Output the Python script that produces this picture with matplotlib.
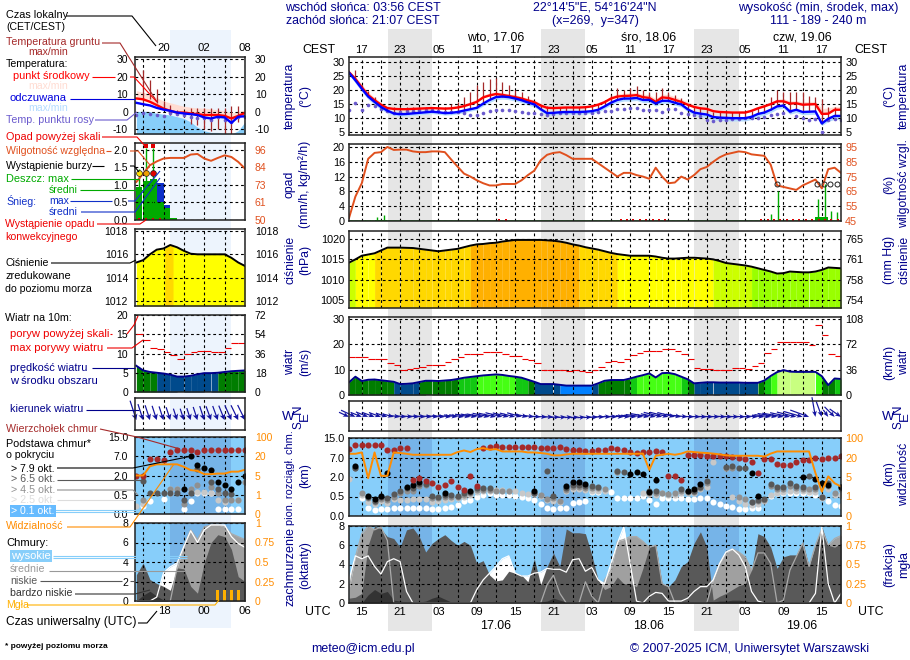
import numpy as np
import matplotlib
matplotlib.use("Agg")
import matplotlib.pyplot as plt

plt.rcParams['font.family'] = ['Liberation Sans', 'DejaVu Sans']
plt.rcParams['font.size'] = 8.9

W, H = 910, 660
NAVY = '#00008b'
HUM = '#e0501e'
ORANGE = '#ff8c00'
BROWN = '#a52a2a'
SKY = '#87cefa'
SKY_NIGHT = '#76b4e8'

# ---- main meteogram, hourly values from 13 UTC on the 16th
temp_mid = [26.4,24,21,18.2,16.4,14.8,13.6,13.3,13.2,13.2,13.3,13.4,13.5,13.6,13.5,13.4,13.5,13.8,14.3,15,
            15.8,17.4,18.1,18.6,18.3,17.9,17.5,17,16.3,15.7,14.5,13.7,13.6,13.7,13.8,13.8,13.8,13.9,14.2,14.8,
            15.7,17,17.7,17.9,18,18.2,17.5,17.2,15.8,17.4,17.2,16.5,15.8,14.8,14,13.5,13.3,12.5,12.2,12.1,
            12,12,12,12.6,13.5,14.2,15,16,16,15.2,15.3,14.8,14.9,15,11.5,11.6,13,13]
temp_max = [26.8,24.8,22,19.3,17.4,15.6,14.2,13.9,13.8,13.8,13.9,14,14.1,14.2,14.1,14,14.1,14.4,15,15.8,
            16.8,18.2,19,19.4,19.1,18.7,18.3,17.8,17.1,16.5,15.2,14.3,14.2,14.3,14.4,14.4,14.4,14.5,14.8,15.6,
            16.5,17.8,18.7,18.9,19,19.2,18.6,18.4,17,18.6,18.4,17.7,16.8,15.8,14.9,14.3,14,13.2,12.9,12.8,
            12.7,12.7,12.7,13.3,14.2,15,15.8,16.8,17,16.2,16.2,15.9,16,16,13.5,13.6,14.2,14.2]
temp_feel = [26.2,23.5,20.5,17.7,15.8,14,12.7,11.7,11.4,11.5,11.7,11.9,12.1,12.3,12.1,11.8,11.9,12.2,12.7,13.2,
             13.7,15.2,16.5,17.5,17.7,17.5,17,16.4,15.6,14.9,13.2,11.8,11.9,12.1,12.2,12.2,12.2,12.3,12.5,13,
             14.2,15.5,16.5,17,17,17.2,16.5,16.5,15.2,16.2,16.2,15.5,14.9,13.2,12,11.6,11.3,10.4,10.2,10.1,
             10,10,10,10.5,11.5,12,13,14.2,14.5,12.4,13,12.2,12.3,12.4,8.1,9.8,10.8,10.8]
feel_min = [25.6,22.5,19.5,16.7,14.8,13,11.9,11,10.7,10.8,11,11.2,11.4,11.6,11.4,11.1,11.2,11.5,12,12.5,
            13,14.4,15.6,16.6,16.8,16.6,16.1,15.5,14.7,14,12.4,11,11.1,11.3,11.4,11.4,11.4,11.5,11.7,12.2,
            13.4,14.7,15.6,16.1,16.1,16.3,15.6,15.6,14.3,15.3,15.3,14.6,14,12.3,11.1,10.6,10.2,9.4,9.2,9,
            9,9,9,9.5,10.5,11,12,13.2,13.5,11.4,12,11.2,11.3,11.4,7.4,8.8,9.6,9.6]
ground_max = [26.4,27.1,21.8,19.8,17.6,14.6,14,14,14,14,14,14,14,14,14,14,15.2,15.8,17.6,19.4,
              21.8,23,23.8,24.2,23,21.8,20,19.2,17.9,15.8,14.6,14.2,14,14,14,14,14,14.2,14.6,15,
              16.5,18.2,20.6,20,20.6,21.4,20,19.4,19.4,20.6,19.4,18.2,17.3,15.2,14,14,13.6,12.3,12.3,12.3,
              12.3,12.3,12.3,12.5,13.5,14.6,17.6,20,19.4,19.4,19.4,19.4,17.9,17.6,17,14,14,14]
dew_point = [13,15.3,13,14.7,14.2,13.3,12.6,12,12.3,12.4,12.7,12.8,13,12.8,12.5,12.3,12.1,12.1,11.8,11.2,
             11,12,12.5,12.9,13,12.9,12.5,12.2,12,11.8,11.4,11.3,11.6,11.8,12,12,12,12,12,12.2,
             12.5,12.6,13.1,13.3,13.5,13.5,13,13,13,12.3,13.2,13.1,11.9,11.5,11,10.8,9.2,9,9.2,9.4,
             9.6,9.8,10,10,10,10.5,11,11.5,12,12.6,10.7,10,9.5,9.6,4.9,9.5,9.7,9.3]
humidity = [47,61.5,70.5,87,91,91.5,95,93,93.2,93.2,92,91.5,91.5,92,92,91.5,86.5,81.7,77,75,
            72.5,70.5,69,69,70,70,70,72.5,76,79,86,89.7,91,91.5,89.5,87,87,87,87,84,
            81,78,75,77.5,77.5,76,75,73.5,81,75,70.5,71,75,73,76,80,81.5,85,88,90,
            91,92,91.5,90,89.5,89,83,69,68,67,66,69,71,73,67,80,81,77.5]
rain_hours = [2.5,3.3,4.4,5.4,66,67.1,73.4,74.5,75.5,76.4]
rain_max = [.4,.4,1,1.6,1.9,8,6,10,2.7,2.5]
rain_mean_hours = [4.5,5.5,73.5,74.5]
rain_mean = [.2,.3,1.2,1.2]
convective_hours = [23.5,24.5,42.5,43.5,44.5,45.5,46.5,47.5,48.5,49.5,64.5,65.5,66.5,67.5,68.5,69.5,70.5,71.5,72.5,73.5,74.5,75.5,76.5]
storm_hours = [67,73.3,74.3,75.3,76.4]
pressure = [1014.2,1015,1015.9,1016.2,1016.5,1017.2,1017.9,1017.9,1017.9,1017.85,1017.8,1017.6,1017.4,1017.2,1017,1017.2,1017.4,1017.6,1018,1018.4,
            1018.7,1018.8,1019,1019.1,1019.4,1019.6,1019.8,1019.8,1019.8,1019.8,1019.8,1019.7,1019.6,1019.4,1019.1,1018.7,1018.4,1018,1017.7,1017.4,
            1017,1016.6,1016.3,1016.1,1015.9,1015.9,1015.9,1015.9,1015.7,1015.4,1015.2,1015.2,1015.3,1015.4,1015.4,1015.3,1015.2,1015,1014.6,1014.1,
            1013.9,1013.7,1013.5,1013.2,1012.8,1012.4,1012,1011.5,1011.6,1012,1011.9,1011.8,1011.8,1012,1012.4,1013,1012.9,1012.8]
wind = [5,7.2,5.5,6,6.1,5.8,5.5,5.2,4.3,4.4,4.6,5.1,5.6,5.6,5.5,5.7,5.9,6.3,6.8,7.1,
        7.4,7.7,7.9,8.1,7.9,7.5,7.2,6.8,6,5.2,4.3,4.3,4.3,4,3.7,3.7,3.7,3.7,3.7,4.6,
        5.6,5.9,5.9,5.9,6.5,7.2,7.8,8.5,6.9,8.6,8.7,8.2,7.2,6.2,4.6,4.8,5,5,4.9,4.9,
        4.9,4.9,4.8,4.8,4.8,5.7,7.5,9,9.8,9.2,9.1,9.1,9.1,9.1,7.4,3.9,6.5,6.3]
gust = [14.8,15,14.8,14,14,14,12.7,12,9.7,10.2,10.7,11.2,12,12,12,12.8,14.2,15,16,16,
        16.3,16.9,17.1,17.1,16,15.5,15.2,14.1,13.6,12.5,9.8,9.8,10,9.9,9.3,9.7,9.3,8.9,9.7,11,
        12.9,13.2,12.9,14,15.6,16.5,17.5,17.5,17.5,18.3,18.3,17.5,16,14,10.8,10.3,10.3,9.7,10,10,
        10.8,10.8,10.3,11.6,12.5,16.7,18.3,21,21,20.7,20.7,20.7,19.6,27.5,23.5,16.3,15.2]
wind_angle = [25,25,22,22,20,20,18,15,8,6,5,5,5,5,6,6,6,8,8,10,
              10,10,12,12,14,14,14,16,12,8,4,2,0,-3,-4,-5,-6,-6,-5,-3,
              0,2,3,4,5,6,8,10,12,14,14,14,10,6,3,3,3,3,3,4,
              3,3,3,3,5,6,8,10,10,12,14,16,20,80,70,55,45,35]
# cloud base and top in scale steps (0, 0.5, 2, 7, 15 km are steps 0..4)
top_base = [3.43,3.64,3.64,3.64,3.64,3.64,3.40,3.40,3.48,3.48,1.85,1.97,1.80,1.68,1.50,1.60,1.77,1.50,1.34,2.06,
            1.55,3.48,3.54,3.57,3.54,3.54,3.54,3.54,3.54,3.54,3.48,3.48,3.48,3.54,3.43,3.40,3.40,3.35,3.31,3.40,
            3.40,3.48,3.43,3.40,3.30,3.23,3.30,3.30,3.35,3.30,2.03,2.06,1.85,3.14,3.14,3.12,3.10,3.09,3.06,3.06,
            3.02,2.99,2.94,2.76,2.20,2.92,2.92,2.66,2.59,2.59,2.76,2.88,2.88,2.99,2.92,2.97,2.97,3.06]
black_hours = [1,3,4,5,6,9,10,11,15,19,29,34,35,36,37,44,45,46,47,48,53,54,55,63,64,71,73,74,75,77]
black_base = [2.54,1.03,.86,1.05,2.23,1.51,1.6,1.73,1.2,1.3,1.29,1.56,1.72,1.72,1.65,2.16,2.28,2.15,1.25,1.85,1.29,1.37,1.63,2.2,1.05,1.99,1.92,1.68,1.6,1.51]
dark_hours = [1,3,4,5,6,7,8,9,10,11,12,13,14,15,16,17,18,19,20,21,22,29,31,32,34,35,36,37,38,39,42,43,47,48,52,53,54,55,56,59,60,61,62,63,64,65,66,67,68,69,70,71,72,73,74,75,77]
dark_base = [2.47,.96,.77,.98,.91,1.13,1.3,1.42,1.42,1.65,1.65,1.05,1,1.08,1.08,1.05,1.17,1.25,1.42,1.42,1.42,1.2,2.33,1.03,1.42,1.6,1.6,1.55,1.55,1.5,2.31,2.28,1.28,1.28,1.38,1.29,1.29,1.51,1.77,2.51,2.54,2.45,2.45,.74,.8,.86,1.65,1.51,1.51,1.68,1.55,1.47,2.06,1.51,1,1.68,1.51]
mid_hours = [1,2,3,4,5,6,7,8,9,10,11,12,13,14,15,16,17,18,19,20,21,22,23,24,25,29,30,31,32,33,34,35,36,37,38,39,40,42,47,48,49,50,51,52,53,54,55,56,59,60,61,62,63,64,65,66,67,68,69,70,71,72,73,74,75,76,77]
mid_base = [2.45,1.16,.9,.7,.85,.8,1,1.2,1.3,1.3,1.55,1.6,.9,.9,.95,.95,1,1.1,1.2,1.35,1.35,1.35,1.3,1.3,1.3,1.2,1.1,.85,.9,.75,1.35,1.5,1.5,1.45,1.42,1.42,1.4,2.27,1.2,1.2,1.2,1.15,1.2,1.3,1.25,1.25,1.45,1.7,2.45,2.45,.95,.85,.7,.75,.8,1.55,1.4,1.4,1.55,1.45,1.4,1.4,1.4,.95,1.55,1.2,1.4]
light_hours = [0,2,3,4,5,6,7,8,9,10,11,12,13,14,15,16,17,18,19,20,21,22,23,24,25,26,27,28,29,30,31,32,33,34,35,36,37,38,39,40,42,46,47,48,49,50,51,52,53,54,55,56,57,59,60,61,62,63,64,65,66,67,68,69,70,71,72,73,74,75,76,77]
light_base = [1.88,1.1,.7,.6,.75,.65,.85,.82,.82,.85,.85,.85,.7,.75,.8,.85,.9,1,1.1,1.25,1.3,1.3,1.35,1.35,1.3,1.3,1.2,1.15,1.15,1.05,.8,.75,.7,1.3,1.4,1.4,1.35,1.3,1.3,1.3,2.25,1.2,1.15,1.1,1.2,1.1,1.1,1.2,1.2,1.2,1.4,1.5,2.75,2.45,.95,.75,.6,.55,.6,.75,1.1,1.2,1.25,1.3,1.3,1.3,1.25,1.25,.9,1.4,1.1,1.1]
white_hours = list(range(2, 78))
white_base = [.91,.39,.31,.34,.34,.43,.39,.39,.43,.43,.39,.34,.34,.39,.48,.57,.79,.82,1,1.08,1.17,1.08,1.08,1.08,1.05,1,.91,.82,.62,.43,.34,.39,.39,.65,.7,.75,1.25,1.25,
              1.34,1.25,.91,.91,.91,.94,1.03,.82,.62,.91,.91,.91,.91,.86,.86,.91,.91,.7,.62,.53,.45,.36,.34,.39,.43,.82,1.03,1.17,1.17,1.17,1.17,1.17,1.17,1.08,1,.77,.57,.51]
visibility = [3.19,3.19,3.26,1.94,3.26,2.06,2.06,3.26,3.23,3.19,3.14,3.14,3.14,3.14,3.14,3.14,3.14,3.28,3.36,3.28,
              3.43,3.48,3.40,3.43,3.31,3.31,3.31,3.31,3.26,3.26,3.23,3.19,3.11,3.11,3.16,3.19,3.19,3.19,3.19,3.19,
              3.19,3.19,3.19,3.19,3.19,3.19,3.2,2.37,3.09,3.14,3.19,3.14,3.2,3.31,3.28,3.25,3.23,3.2,3.16,3.11,
              3.09,3.09,3.09,3.09,3.09,3.05,3.2,3.31,3.31,3.31,3.31,3.31,3.31,2.2,1.25,2.03,1.68,1.51]
cloud_high = [2.4,4.9,4.6,4.9,3.8,3,4.3,4.6,4.3,1.2,0,0,0,0,0,0,0,0,0,0,
              1.4,2.4,3.1,3.8,4.6,4.9,3.1,2.8,2.8,3.1,3.2,3.6,3.5,3.5,3.2,4.5,4.6,3.3,3.7,2.4,
              2,4.1,6.2,7.9,4.1,.2,0,.7,1.1,1,.2,.2,.2,.5,1.2,1.7,1.7,2.4,4.1,5.3,
              5.6,5,3.8,1.2,.2,0,0,0,0,0,0,0,0,1,7.9,2,0,1]
cloud_mid = [1.4,4.8,7.2,8,7.6,7.9,6.5,0,0,0,0,0,0,0,0,0,0,0,0,0,
             0,0,0,0,0,0,0,0,0,0,0,1.9,2.9,1,0,0,0,2.2,.7,0,
             2.4,3.4,6.4,6.6,6.9,6.9,6.4,5.8,6,2,1.7,0,0,0,0,0,0,2.4,4.1,5.2,
             5.6,5.3,4.8,3.4,5.2,5.2,4.1,0,.3,3.4,4.8,6.2,3.8,6,7.7,6,6.7,7]
cloud_low = [.5,.6,1,6,8,7.7,6.9,6.7,5.8,7.6,7.8,6.9,5.3,6.2,6.7,7.1,6.5,6,6.4,6,
             4.1,4.4,2.9,2.3,2.4,3.3,3.1,2.9,2.2,4.6,1.9,3.8,5.2,3.8,7.7,7.3,7.3,7.2,5,2.4,
             1.4,1.7,2.7,2,2,1.7,3.6,5.8,6,2,1.7,2.4,3.8,4.3,6.2,7.4,5.8,.3,.7,1,
             1.4,1.8,2,3.4,7.2,6.9,5.8,3.6,4.8,5,5,6.4,3.8,6,7.9,6,5.8,6.2]
cloud_vlow = [0,0,0,.85,1.4,1,1.2,.3,.2,.1,.1,.1,.2,.5,.7,.4,.1,.1,.1,.1,
              0,0,0,0,0,0,0,0,0,0,.1,.2,.5,.3,.1,.1,0,0,0,0,
              0,0,0,0,0,0,0,0,0,0,0,0,.1,.1,.1,.1,.1,.1,.2,.2,
              .3,.3,.2,.1,.1,.1,.1,.1,.1,.1,.1,.1,.1,.1,.1,.1,.1,.1]
night_start = [6.12, 30.12, 54.0]
night_end = [12.93, 36.93, 61.0]

# ---- legend meteogram on the left, hours after 17 CEST
leg_hours = list(range(-1, 16))
leg_temp = [7.5,7,5.6,3.7,1.7,.4,-.6,-.6,-1.1,-1.5,-2,-2,-2,-2.5,-4,-2.5,-.8]
leg_temp_max = [12,11,10,8,6,5,4,3,2.5,2,2,1.5,1,.5,-1,0,1]
leg_feel = [5,4.2,3.5,2.1,1.1,.4,-.6,-1.1,-1.5,-2,-3.4,-4,-3,-3.4,-6.5,-3,-2.7]
leg_feel_min = [0,.2,0,-1,-1.5,-2,-3,-4,-6,-9,-11,-12,-12,-12.5,-13,-11,-6]
leg_ground_hi = [np.nan,24,18,13,6,4,1,-.2,2,2,2,2,2,2,3,3,np.nan]
leg_ground_lo = [np.nan,4.2,7,5,1,-2,-2,-3.4,-7,-8,-10,-11,-10,-13,-13,-6,np.nan]
leg_dew = [-2,-1,-1.5,-2,-2.6,-.8,-1.5,-2,-3,-3.6,-4,-4.6,-3.4,-5,-6,-3.4,-3]
leg_humidity = [75,80.5,86,88.5,90.4,90.8,90.8,90.8,93,93.4,90.4,88.9,90.8,92.5,91.4,88.2,83.8]
leg_rain_hours = [-.6,.5,1.5,2.5,3.5,4.5]
leg_rain = [.95,1.1,1.17,.52,.33,.05]
leg_snow = [0,0,0,.55,.1,0]
leg_rain_max_hours = [-.6,.4,1.5]
leg_rain_max = [1.47,2.05,2.05]
storm_colors = ['#ffe000','#f0a000','#e00000']
leg_pressure = [1015.3,1015.5,1016,1016.4,1016.5,1016.8,1016.6,1016.3,1016.05,1016,1016,1016,1016,1016,1015.7,1015.3,1015]
leg_wind = [6.8,5.6,5.2,5,4.8,4.5,4,4,4.2,4.6,4.9,4.9,5,5.2,5.4,5.5,5.6]
leg_gust = [15,13.4,11.5,11.2,10.4,9.5,8.7,9.8,10.4,10.6,10.6,10.4,10.4,11.5,12.7,12.7]
leg_top = [1.98,1.98,2.88,2.88,2.8,3.22,3.34,3.34,3.34,3.22,3.34,3.34,3.34,3.34,3.34,3.34,3.34]
leg_black_hours = [6,7,8,9,10,11,12,13,14,15]
leg_black = [1.28,3,2.53,2.4,2.28,1.67,1.5,1.28,1.67,1.98]
leg_dark_hours = [0,1,2,3,4,5,6,7,8,10,11,12,13]
leg_dark = [1.7,1.1,1.1,1.1,1.1,1.07,.72,1.07,2.36,1.67,1.28,1.07,1.03]
leg_mid_hours = [0,4,5,6,7,8,10,11,12,13,14,15]
leg_mid = [.72,1.28,1.28,.5,1.28,1.5,1.41,1.07,.72,.72,.72,1.67]
leg_light_hours = [-1,0,4,5,7,8,9,10,11,12,14]
leg_light = [.41,.5,1.28,1.28,1.16,1.16,1.16,1.07,.72,.64,.72]
leg_white_hours = [0,1,3,4,6,7,8,9,10,11,12,13,14]
leg_white = [.41,.69,.78,1.1,.24,.69,1.1,1.1,1.07,.24,.24,.24,.24]
leg_visibility = [2,2,2.48,2.58,2.58,2.58,2.58,2.45,2.28,2.24,2.07,2.07,2.1,2.1,2.2,2.2,2.3]
leg_cloud_high = [0,0,0,.4,2.9,3.5,3.9,5.6,7.2,6,7.3,7.8,7.8,7.8,6.6,5.9,5.5]
leg_cloud_mid = [0,0,0,0,0,0,3.4,5.6,7.3,6.3,7.6,7.8,7.8,7.6,6.9,6.6,6.3]
leg_cloud_low = [2.7,3.9,2.2,1.8,1.5,1.1,3.4,3.3,1.5,.8,3.9,6,6.8,6.6,5.3,2.5,2]
leg_cloud_vlow = [0,.6,1,.5,.1,0,0,0,0,0,0,0,0,0,0,0,0]
fog_hours = [11,12,13,14]
fog = [.14,.14,.14,.14]

fig = plt.figure(figsize=(W / 100, H / 100), dpi=100)


def panel(l, t, r, b, zorder=1):
    ax = fig.add_axes([l / W, 1 - b / H, (r - l) / W, (b - t) / H], zorder=zorder)
    ax.patch.set_alpha(0)
    return ax


def dressed(box, xlim, xticks, ylim, yticks, ylab, rlab, rcolor='black', lpad=3, rpad=3, grid_y=True, size=7.8):
    ax = panel(*box)
    ax.set_xlim(*xlim)
    ax.set_ylim(*ylim)
    ax.set_xticks(xticks)
    ax.set_xticklabels([])
    ax.set_yticks(yticks)
    ax.set_yticklabels(ylab)
    ax.tick_params(length=0, pad=lpad, labelsize=size)
    ax.set_axisbelow(False)
    ax.grid(True, color='black', lw=.8, ls=(0, (2.5, 2.5)))
    if not grid_y:
        ax.grid(False, axis='y')
    for s in ax.spines.values():
        s.set_linewidth(1.1)
        s.set_color('#222222')
        s.set_zorder(6)
    if rlab is not None:
        rax = ax.twinx()
        rax.set_ylim(*ylim)
        rax.set_yticks(yticks)
        rax.set_yticklabels(rlab, color=rcolor)
        rax.tick_params(length=0, pad=rpad, labelsize=size)
        rax.patch.set_alpha(0)
        for s in rax.spines.values():
            s.set_visible(False)
    return ax


def band_fill(ax, x, y, bottom, colour_of):
    for i in range(len(x) - 1):
        c = colour_of((y[i] + y[i + 1]) / 2)
        ax.fill_between(x[i:i + 2], bottom, y[i:i + 2], color=c, lw=0, zorder=1)


def pressure_colour(p):
    if p < 1013.3:
        return '#99ff00'
    if p < 1015:
        return '#ccff00'
    if p < 1016.4:
        return '#ffff00'
    if p < 1018.5:
        return '#ffd800'
    return '#ffb000'


def wind_colour(v):
    if v < 4:
        return '#0080ff'
    if v < 5.1:
        return '#004a8c'
    if v < 6.4:
        return '#007d00'
    if v < 7.3:
        return '#12c812'
    if v < 9:
        return '#46ff14'
    return '#c8ff80'


def draw_temp(ax, x, mid, up, feel, low, dew, lw=1.7):
    ax.fill_between(x, mid, up, color='#ffdcd2', lw=0, zorder=1)
    ax.fill_between(x, low, feel, color='#b4dcff', lw=0, zorder=1)
    ax.plot(x, dew, ls='none', marker='o', ms=2.6, mew=0, color='#6a5acd', zorder=3)
    ax.plot(x, mid, color='#ff0000', lw=lw, zorder=4)
    ax.plot(x, feel, color='#0000ff', lw=lw, zorder=4)


def draw_clouds(ax, x, high, mid, low, vlow):
    ax.fill_between(x, 0, high, color='white', lw=0, zorder=1)
    ax.fill_between(x, 0, mid, color='#a0a0a0', lw=0, zorder=1.1)
    ax.fill_between(x, 0, low, color='#595959', lw=0, zorder=1.2)
    ax.fill_between(x, 0, vlow, color='#333333', lw=0, zorder=1.3)
    ax.plot(x, mid, color='#aaaaaa', lw=.9, zorder=3)
    ax.plot(x, high, color='white', lw=.9, zorder=3)


base_ticks = [0, 1, 2, 3, 4]
base_labels = ['0.0', '0.5', '2.0', '7.0', '15.0']
vis_labels = ['0', '1', '5', '20', '100']

# background bands
hours = np.arange(78)
bx = panel(349, 29, 841, 631, zorder=0)
bx.set_xlim(0, 77)
bx.axis('off')
for a, b in zip(night_start, night_end):
    bx.axvspan(a, b, color='#e6e6e6', lw=0)
lbx = panel(135, 30, 245, 628, zorder=0)
lbx.set_xlim(-1.2, 15)
lbx.axis('off')
lbx.axvspan(3.95, 13, color='#edf4fd', lw=0)

# ---- main panels
mx = (0, 77)
mt = list(range(2, 78, 3))
ax = dressed((349, 57, 841, 135), mx, mt, (4, 31.8), [5, 10, 15, 20, 25, 30], [5, 10, 15, 20, 25, 30], [5, 10, 15, 20, 25, 30])
ax.vlines(hours[1:], np.array(temp_feel[1:]), np.array(ground_max[1:]), color=BROWN, lw=.9, zorder=2.8)
draw_temp(ax, hours, temp_mid, temp_max, temp_feel, feel_min, dew_point)

ax = dressed((349, 144, 841, 221), mx, mt, (0, 20.8), [0, 4, 8, 12, 16, 20], [0, 4, 8, 12, 16, 20],
             [45, 55, 65, 75, 85, 95], HUM)
ax.bar(rain_mean_hours, rain_mean, width=1, color='#00aa00', zorder=3)
ax.vlines(rain_hours, 0, rain_max, color='#00aa00', lw=1, zorder=3)
ax.plot(hours, (np.array(humidity) - 45) / 2.5, color=HUM, lw=1.4, zorder=4)
ax.plot(storm_hours, [9.9] * len(storm_hours), ls='none', marker='o', mfc='none', mec='#222222', ms=3.6, mew=.7, zorder=5)
ax.plot(convective_hours, [.2] * len(convective_hours), ls='none', marker='s', ms=1.8, mew=0, color='#e00000', zorder=5, clip_on=False)
ax.axhline(.2, color='#008000', lw=.5, zorder=2)

ax = dressed((349, 231, 841, 308), mx, mt, (1003, 1022), [1005, 1010, 1015, 1020], [1005, 1010, 1015, 1020],
             [754, 758, 761, 765])
band_fill(ax, hours, pressure, 1003, pressure_colour)
ax.plot(hours, pressure, color='black', lw=1.4, zorder=4)

ax = dressed((349, 317, 841, 395), mx, mt, (0, 30.7), [0, 10, 20, 30], [0, 10, 20, 30], [0, 36, 72, 108])
band_fill(ax, hours, wind, 0, wind_colour)
ax.plot(hours, wind, color='#00008b', lw=1.4, zorder=4)
ax.hlines(gust, hours[:-1], hours[1:], color='#ee0000', lw=.8, zorder=4)

ax = dressed((349, 401, 841, 431), mx, mt, (0, 1), [], [], None, grid_y=False)
ang = np.radians(wind_angle)
ln = np.array(wind) * 2.2
ax.quiver(hours, np.full(78, .47), ln * np.cos(ang), -ln * np.sin(ang), angles='uv', scale_units='dots', scale=1,
          units='dots', width=1.2, headwidth=4, headlength=5, headaxislength=4, pivot='tip', color='#1414a0', zorder=5, clip_on=False)

ax = dressed((349, 438, 841, 516), mx, mt, (0, 4), base_ticks, base_labels, vis_labels, ORANGE)
ax.set_facecolor(SKY)
ax.patch.set_alpha(1)
for a, b in zip(night_start, night_end):
    ax.axvspan(a, b, color=SKY_NIGHT, lw=0, zorder=.5)
for hh, vv, c in [(white_hours, white_base, 'white'), (light_hours, light_base, '#c8c8c8'), (mid_hours, mid_base, '#909090'),
                  (dark_hours, dark_base, '#585858'), (black_hours, black_base, 'black'), (hours, top_base, BROWN)]:
    ax.plot(hh, vv, ls='none', marker='o', ms=4.4, mew=0, color=c, zorder=3)
ax.plot(hours, visibility, color=ORANGE, lw=1.4, zorder=4)

ax = dressed((349, 526, 841, 603), mx, mt, (0, 8), [0, 2, 4, 6, 8], [0, 2, 4, 6, 8], ['0', '0.25', '0.5', '0.75', '1'], ORANGE)
ax.set_facecolor(SKY)
ax.patch.set_alpha(1)
for a, b in zip(night_start, night_end):
    ax.axvspan(a, b, color=SKY_NIGHT, lw=0, zorder=.5)
draw_clouds(ax, hours, cloud_high, cloud_mid, cloud_low, cloud_vlow)

# ---- legend panels
lx = (-1.2, 15)
lt = [0, 3, 6, 9, 12, 15]
ax = dressed((135, 57, 245, 134), lx, lt, (-12.9, 31.3), [-10, 0, 10, 20, 30], [-10, 0, 10, 20, 30], [-10, 0, 10, 20, 30], lpad=5, rpad=7, size=7.5)
ax.fill_between(leg_hours, -12.9, leg_feel_min, color=SKY, lw=0, zorder=1)
ax.vlines(leg_hours, leg_ground_lo, leg_ground_hi, color=BROWN, lw=.9, zorder=2.8)
draw_temp(ax, leg_hours, leg_temp, leg_temp_max, leg_feel, leg_feel, leg_dew)

ax = dressed((135, 143, 245, 220), lx, lt, (0, 2.2), [0, .5, 1, 1.5, 2], ['0.0', '0.5', '1.0', '1.5', '2.0'],
             [50, 61, 73, 84, 96], HUM, lpad=5, rpad=7, size=7.5)
ax.bar(leg_rain_hours, leg_rain, width=1, color='#00aa00', zorder=1.5)
ax.bar(leg_rain_hours, leg_snow, width=1, bottom=leg_rain, color='#1030c8', zorder=1.5)
ax.vlines(leg_rain_max_hours, 0, leg_rain_max, color='#00aa00', lw=1, zorder=3)
ax.plot(leg_hours, (np.array(leg_humidity) - 50) / 23, color=HUM, lw=1.4, zorder=4)
for h_, c in zip(leg_rain_max_hours, storm_colors):
    ax.plot(h_, 1.33, marker='o', ms=4.2, mfc=c, mec='#222222', mew=.5, zorder=5)
ax.plot(leg_rain_max_hours[1:], [2.1, 2.1], ls='none', marker='s', ms=2.4, mew=0, color='#e00000', zorder=5)
ax.plot([-.6, .4, 1.5, 2.5], [.02] * 4, ls='none', marker='s', ms=1.6, mew=0, color='#e00000', zorder=5, clip_on=False)

ax = dressed((135, 229, 245, 306), lx, lt, (1011.57, 1018.17), [1012, 1014, 1016, 1018], [1012, 1014, 1016, 1018],
             [1012, 1014, 1016, 1018], lpad=5, rpad=7, size=7.5)
ax.fill_between(leg_hours, 1011.57, leg_pressure, color='#ffff00', lw=0, zorder=1)
ax.fill_between([3.2, 4, 4.4], 1011.57, [1016.5, 1016.8, 1016.7], color='#ffd800', lw=0, zorder=1.1)
ax.plot(leg_hours, leg_pressure, color='black', lw=1.4, zorder=4)

ax = dressed((135, 315, 245, 392), lx, lt, (0, 20), [0, 5, 10, 15, 20], [0, 5, 10, 15, 20], [0, 18, 36, 54, 72], lpad=5, rpad=7, size=7.5)
band_fill(ax, leg_hours, leg_wind, 0, wind_colour)
ax.plot(leg_hours, leg_wind, color='#00008b', lw=1.4, zorder=4)
ax.hlines(leg_gust, leg_hours[:-1], leg_hours[1:], color='#ee0000', lw=.8, zorder=4)

ax = dressed((135, 398, 245, 430), lx, lt, (0, 1), [], [], None, grid_y=False)
ang = np.radians(np.array([72, 72, 72, 72, 72, 72, 72, 72, 72, 72, 72, 70, 70, 68, 66, 64, 64]))
ln = np.array(leg_wind) * 3
ax.quiver(leg_hours, np.full(17, .31), ln * np.cos(ang), -ln * np.sin(ang), angles='uv', scale_units='dots', scale=1,
          units='dots', width=1.2, headwidth=5, headlength=5, headaxislength=4, pivot='tip', color='#1414a0', zorder=5, clip_on=False)

ax = dressed((135, 437, 245, 514), lx, lt, (0, 4), base_ticks, base_labels, vis_labels, ORANGE, lpad=5, rpad=7, size=7.5)
ax.set_facecolor(SKY)
ax.patch.set_alpha(1)
ax.axvspan(3.95, 13, color=SKY_NIGHT, lw=0, zorder=.5)
for hh, vv, c in [(leg_white_hours, leg_white, 'white'), (leg_light_hours, leg_light, '#c8c8c8'), (leg_mid_hours, leg_mid, '#909090'),
                  (leg_dark_hours, leg_dark, '#585858'), (leg_black_hours, leg_black, 'black'), (leg_hours, leg_top, BROWN)]:
    ax.plot(hh, vv, ls='none', marker='o', ms=4.4, mew=0, color=c, zorder=3)
ax.plot(leg_hours, leg_visibility, color=ORANGE, lw=1.4, zorder=4)

ax = dressed((135, 523, 245, 601), lx, lt, (0, 8), [0, 2, 4, 6, 8], [0, 2, 4, 6, 8], ['0', '0.25', '0.5', '0.75', '1'], ORANGE, lpad=5, rpad=7, size=7.5)
ax.set_facecolor(SKY)
ax.patch.set_alpha(1)
ax.axvspan(3.95, 13, color=SKY_NIGHT, lw=0, zorder=.5)
draw_clouds(ax, leg_hours, leg_cloud_high, leg_cloud_mid, leg_cloud_low, leg_cloud_vlow)
ax.bar(fog_hours, np.array(fog) * 8, width=.45, color='#ffb000', zorder=5)

# ---- texts and leader lines in pixel space
ov = fig.add_axes([0, 0, 1, 1], zorder=10)
ov.set_xlim(0, W)
ov.set_ylim(H, 0)
ov.axis('off')
renderer = fig.canvas.get_renderer()


def t(x, y, s, color='black', ha='left', **kw):
    return ov.text(x, y, s, color=color, ha=ha, va='center', **kw)


def vt(x, y, s, color=NAVY, size=8.8):
    ov.text(x, y, s, color=color, ha='center', va='center', rotation=90, fontsize=size)


def fitted(x, y, s, color, width, low=7.6, **kw):
    # legend text: scale the font towards the reference width, within a sane range
    txt = t(x, y, s, color, **kw)
    size = txt.get_fontsize() * width / txt.get_window_extent(renderer).width
    txt.set_fontsize(min(max(size, low), 8.8))
    return txt


t(363, 8, 'wschód słońca: 03:56 CEST', NAVY, 'center')
t(363, 21, 'zachód słońca: 21:07 CEST', NAVY, 'center')
t(595, 8, '22°14\'5"E, 54°16\'24"N', NAVY, 'center')
t(595, 21, '(x=269,  y=347)', NAVY, 'center')
t(818, 8, 'wysokość (min, środek, max)', NAVY, 'center')
t(818, 21, '111 - 189 - 240 m', NAVY, 'center')

for x_, s in [(496, 'wto, 17.06'), (649, 'śro, 18.06'), (802, 'czw, 19.06')]:
    t(x_, 37, s, ha='center')
for x_, s in [(496, '17.06'), (649, '18.06'), (802, '19.06')]:
    t(x_, 626, s, ha='center')
t(319, 50, 'CEST', ha='center')
t(871, 50, 'CEST', ha='center')
t(318, 612, 'UTC', ha='center')
t(871, 612, 'UTC', ha='center')
cest = ['17', '23', '05', '11', '17', '23', '05', '11', '17', '23', '05', '11', '17']
utc = ['15', '21', '03', '09', '15', '21', '03', '09', '15', '21', '03', '09', '15']
for i in range(13):
    px = 349 + 6.39 * (2 + 6 * i)
    t(px, 50, cest[i], ha='center', fontsize=8.1)
    t(px, 612, utc[i], ha='center', fontsize=8.1)
for x_, s in [(164, '20'), (204, '02'), (245, '08')]:
    t(x_, 48, s, ha='center', fontsize=8.1)
for x_, s in [(164, '18'), (204, '00'), (245, '06')]:
    t(x_, 611, s, ha='center', fontsize=8.1)
t(363, 649, 'meteo@icm.edu.pl', NAVY, 'center')
t(750, 649, '© 2007-2025 ICM, Uniwersytet Warszawski', NAVY, 'center')

for y_, a, b in [(96, 'temperatura', '(°C)'), (184, 'opad', '(mm/h, kg/m²/h)'), (260, 'ciśnienie', '(hPa)'), (362, 'wiatr', '(m/s)')]:
    vt(290, y_, a)
    vt(305, y_, b)
vt(290, 478, 'pion. rozciągł. chm.', size=7.9)
vt(305, 476, '(km)')
vt(290, 567, 'zachmurzenie', size=9.1)
vt(305, 565, '(oktanty)')
for y_, a, b in [(96, 'temperatura', '(°C)'), (184, 'wilgotność wzgl.', '(%)'), (260, 'ciśnienie', '(mm Hg)'), (362, 'wiatr', '(km/h)'),
                 (474, 'widzialność', '(km)'), (565, 'mgła', '(frakcja)')]:
    vt(904, y_, a)
    vt(889, y_, b)
for dx in (288, 888):
    t(dx, 417, 'W', NAVY, 'center', fontsize=9.5)
    t(dx + 10, 409, 'N', NAVY, 'center', rotation=90, fontsize=9.5)
    t(dx + 10, 425, 'S', NAVY, 'center', rotation=90, fontsize=8.5)
    t(dx + 17, 417, 'E', NAVY, 'center', rotation=90, fontsize=9.5)

legend_lines = [
    (6, 15, 'Czas lokalny', 'black', 62), (6, 27, '(CET/CEST)', 'black', 58),
    (6, 42, 'Temperatura gruntu', BROWN, 93), (28, 52, 'max/min', BROWN, 38),
    (6, 64, 'Temperatura:', 'black', 62), (13, 76, 'punkt środkowy', '#ff0000', 77),
    (28, 86, 'max/min', '#ffdcd2', 38), (10, 98, 'odczuwana', '#0000dd', 57),
    (28, 108, 'max/min', '#b4dcff', 38), (6, 120, 'Temp. punktu rosy', '#6a5acd', 87),
    (6, 137, 'Opad powyżej skali', '#ee0000', 95), (6, 151, 'Wilgotność względna', HUM, 97),
    (6, 166, 'Wystąpienie burzy', 'black', 85), (6, 179, 'Deszcz: max', '#00aa00', 63),
    (49, 190, 'średni', '#00aa00', 29), (6, 201, 'Śnieg:', '#1030c8', 29),
    (49, 201, 'max', '#1030c8', 19), (49, 212, 'średni', '#1030c8', 29),
    (5, 224, 'Wystąpienie opadu', '#ee0000', 89), (5, 237, 'konwekcyjnego', '#ee0000', 72),
    (5, 263, 'Ciśnienie', 'black', 42), (5, 276, 'zredukowane', 'black', 66), (5, 289, 'do poziomu morza', 'black', 87),
    (5, 318, 'Wiatr na 10m:', 'black', 67), (10, 334, 'poryw powyżej skali', '#ee0000', 101),
    (10, 348, 'max porywy wiatru', '#ee0000', 94), (10, 368, 'prędkość wiatru', NAVY, 78),
    (10, 381, 'w środku obszaru', NAVY, 88), (10, 409, 'kierunek wiatru', NAVY, 73),
    (6, 429, 'Wierzchołek chmur', BROWN, 91), (6, 444, 'Podstawa chmur*', 'black', 85),
    (6, 455, 'o pokryciu', 'black', 46), (11, 469, '> 7.9 okt.', 'black', 44),
    (11, 479, '> 6.5 okt.', '#585858', 44), (11, 490, '> 4.5 okt.', '#909090', 44),
    (11, 500, '> 2.5 okt.', '#dddddd', 44), (6, 526, 'Widzialność', ORANGE, 57),
    (6, 543, 'Chmury:', 'black', 42), (10, 569, 'średnie', '#999999', 35),
    (10, 581, 'niskie', '#585858', 26), (10, 593, 'bardzo niskie', '#333333', 61),
    (6, 605, 'Mgła', '#ffb000', 22), (6, 622, 'Czas uniwersalny (UTC)', 'black', 131),
]
for x_, y_, s, c, w_ in legend_lines:
    fitted(x_, y_, s, c, w_)
fitted(11, 511, '> 0.1 okt.', 'white', 44, bbox=dict(fc='#66bbff', ec='none', pad=1))
fitted(11, 556, 'wysokie', 'white', 40, bbox=dict(fc=SKY, ec='none', pad=1))
fitted(5, 647, '* powyżej poziomu morza', 'black', 103, low=6, fontweight='bold')

leaders = [
    ([66, 132, 156], [16, 16, 46], 'black'),
    ([102, 120, 157], [43, 43, 102], BROWN),
    ([92, 115], [77, 77], '#ff0000'), ([130, 134, 157], [77, 77, 102], '#ff0000'),
    ([70, 135], [99, 99], '#0000dd'),
    ([95, 127, 137], [120, 120, 112], '#6a5acd'),
    ([102, 137, 146], [137, 137, 147], '#ee0000'),
    ([106, 111], [151, 151], HUM), ([130, 138, 150], [151, 151, 165], HUM),
    ([92, 104], [166, 166], 'black'), ([130, 134, 139], [166, 166, 172], 'black'),
    ([71, 139], [179, 179], '#00aa00'), ([80, 146], [190, 190], '#00aa00'),
    ([70, 112], [201, 201], '#1030c8'), ([128, 135, 160], [201, 201, 171], '#1030c8'),
    ([81, 135, 160], [212, 212, 178], '#1030c8'),
    ([97, 140, 146], [224, 224, 220], '#ee0000'),
    ([51, 130, 136], [263, 263, 260], 'black'),
    ([110, 112], [334, 334], '#ee0000'), ([127, 134, 138], [334, 325, 316], '#ee0000'),
    ([107, 132, 143], [348, 348, 340], '#ee0000'),
    ([92, 135], [368, 368], NAVY), ([86, 139], [410, 410], NAVY),
    ([100, 137, 180], [429, 437, 449], BROWN),
    ([57, 133, 192], [468, 468, 456], 'black'),
    ([57, 143], [480, 480], '#585858'),
    ([57, 133, 138], [490, 490, 495], '#909090'),
    ([57, 135], [500, 500], '#dddddd'),
    ([55, 136], [510, 510], SKY), ([55, 136], [512, 512], SKY),
    ([67, 130, 174], [527, 527, 464], ORANGE),
    ([53, 187], [556, 556], SKY), ([53, 187], [558, 558], SKY),
    ([49, 185], [571, 571], '#999999'),
    ([40, 122], [581, 581], '#585858'), ([130, 135], [581, 581], '#585858'),
    ([75, 135, 150], [594, 594, 590], '#333333'),
    ([27, 215, 219], [605, 605, 600], '#ffb000'),
    ([138, 147, 157], [623, 623, 611], 'black'),
]
for xs, ys, c in leaders:
    ov.plot(xs, ys, color=c, lw=.8, solid_capstyle='butt')

fig.savefig('out.png', dpi=100)
